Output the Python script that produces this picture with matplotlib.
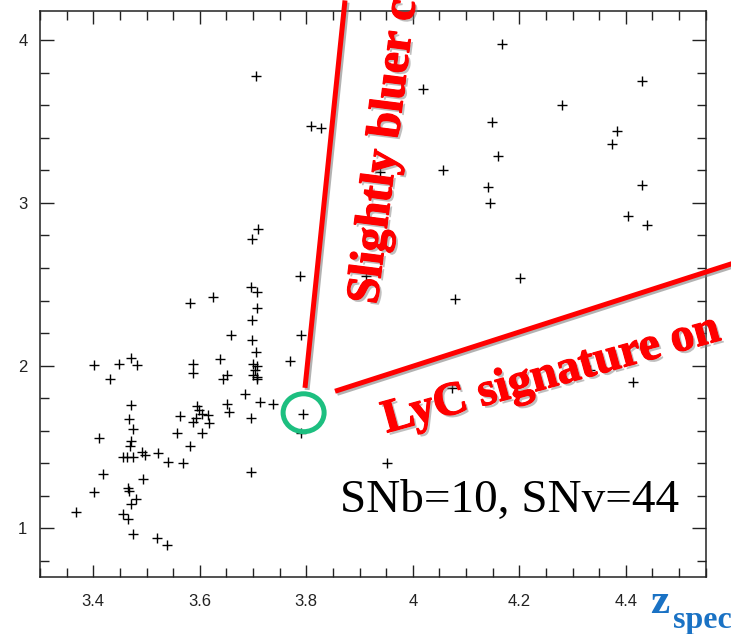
import matplotlib
matplotlib.use("Agg")
import matplotlib.pyplot as plt
import matplotlib.patheffects as pe
from matplotlib.patches import Ellipse
from matplotlib.ticker import MultipleLocator, FixedLocator, FixedFormatter

# redshift and colour of each source
z_spec = [3.705, 3.809, 3.827, 3.710, 3.699, 3.788, 3.912, 3.696, 3.707, 3.625,
          3.582, 4.167, 4.020, 4.430, 4.280, 4.148, 4.383, 4.374, 4.160, 4.057,
          3.938, 4.142, 4.430, 4.145, 4.405, 4.440, 4.201, 4.079, 4.333, 4.414,
          4.073, 3.951,
          3.707, 3.699, 3.659, 3.791, 3.699, 3.705, 3.638, 3.769, 3.588, 3.588,
          3.700, 3.707, 3.703, 3.707, 3.700, 3.707, 3.651, 3.644, 3.685, 3.714,
          3.738, 3.651, 3.654, 3.594, 3.599, 3.604, 3.593, 3.616, 3.618, 3.588,
          3.563, 3.557, 3.604, 3.582, 3.697, 3.794, 3.791, 3.697, 3.568, 3.541,
          3.521,
          3.402, 3.449, 3.470, 3.483, 3.431, 3.471, 3.468, 3.475, 3.411, 3.471,
          3.469, 3.455, 3.463, 3.474, 3.491, 3.497, 3.418, 3.494, 3.402, 3.466,
          3.468, 3.481, 3.471, 3.368, 3.455, 3.466, 3.475, 3.519, 3.539]
colour = [3.78, 3.47, 3.46, 2.84, 2.78, 2.55, 2.55, 2.48, 2.45, 2.42,
          2.385, 3.98, 3.70, 3.75, 3.60, 3.50, 3.44, 3.36, 3.29, 3.20,
          3.19, 3.10, 3.11, 3.00, 2.92, 2.865, 2.54, 2.41, 1.975, 1.90,
          1.863, 1.40,
          2.354, 2.278, 2.19, 2.19, 2.155, 2.084, 2.043, 2.026, 2.012, 1.955,
          2.01, 1.995, 1.975, 1.93, 1.94, 1.915, 1.945, 1.92, 1.826, 1.777,
          1.765, 1.761, 1.714, 1.75, 1.726, 1.70, 1.679, 1.695, 1.644, 1.652,
          1.689, 1.587, 1.587, 1.505, 1.679, 1.70, 1.583, 1.348, 1.40, 1.407,
          1.464,
          2.002, 2.012, 2.047, 2.006, 1.918, 1.757, 1.669, 1.607, 1.552, 1.536,
          1.505, 1.44, 1.44, 1.44, 1.468, 1.452, 1.331, 1.305, 1.225, 1.25,
          1.229, 1.178, 1.147, 1.102, 1.086, 1.055, 0.967, 0.939, 0.896]

xticks = [3.4, 3.6, 3.8, 4.0, 4.2, 4.4]
xtick_labels = ["3.4", "3.6", "3.8", "4", "4.2", "4.4"]
yticks = [1, 2, 3, 4]
ytick_labels = ["1", "2", "3", "4"]

fig = plt.figure(figsize=(7.31, 6.34), dpi=100)
ax = fig.add_axes([0.0547, 0.0899, 0.9654 - 0.0547, 0.98265 - 0.0899])

ax.plot(z_spec, colour, linestyle="none", marker="+", markersize=7.5,
        markeredgewidth=1.0, color="black", zorder=3)

ax.set_xlim(3.3, 4.55)
ax.set_ylim(0.7, 4.18)
ax.xaxis.set_major_locator(FixedLocator(xticks))
ax.xaxis.set_major_formatter(FixedFormatter(xtick_labels))
ax.yaxis.set_major_locator(FixedLocator(yticks))
ax.yaxis.set_major_formatter(FixedFormatter(ytick_labels))
ax.xaxis.set_minor_locator(MultipleLocator(0.05))
ax.yaxis.set_minor_locator(MultipleLocator(0.2))
ax.tick_params(which="both", direction="in", top=True, right=True, width=1,
               color="#222222", labelcolor="#222222")
ax.tick_params(axis="x", which="major", length=9, pad=12)
ax.tick_params(axis="y", which="major", length=10, pad=9)
ax.tick_params(which="minor", length=6.5)
for lbl in ax.get_xticklabels() + ax.get_yticklabels():
    lbl.set_fontfamily("Liberation Sans")
    lbl.set_fontsize(12)
for sp in ax.spines.values():
    sp.set_linewidth(1.1)
    sp.set_color("#222222")

# annotations
line_fx = [pe.SimpleLineShadow(offset=(1.5, -1.5), shadow_color="gray", alpha=0.6),
           pe.Normal()]
ax.plot([3.7976, 3.8727], [1.863, 4.245], color="red", lw=3.6,
        solid_capstyle="butt", clip_on=False, path_effects=line_fx, zorder=5)
ax.plot([3.854, 4.65], [1.842, 2.68], color="red", lw=3.6,
        solid_capstyle="butt", clip_on=False, path_effects=line_fx, zorder=5)

ax.add_patch(Ellipse((3.795, 1.71), 0.077, 0.233, fill=False,
                     edgecolor="#1dbf80", lw=3.6, zorder=6))

text_fx = [pe.withSimplePatchShadow(offset=(1.8, -1.8), shadow_rgbFace="gray",
                                    alpha=0.5),
           pe.Stroke(linewidth=0.9, foreground="red"), pe.Normal()]
fig.text(0.5157, 0.519, "Slightly bluer c", rotation=82.8,
         rotation_mode="anchor", ha="left", va="baseline", color="red",
         fontfamily="Liberation Serif", fontweight="bold", fontsize=34,
         path_effects=text_fx, zorder=7)
fig.text(0.529, 0.3175, "LyC signature on", rotation=15.5,
         rotation_mode="anchor", ha="left", va="baseline", color="red",
         fontfamily="Liberation Serif", fontweight="bold", fontsize=34,
         path_effects=text_fx, zorder=7)

fig.text(0.465, 0.193, "SNb=10, SNv=44", ha="left", va="baseline",
         color="black", fontfamily="Liberation Serif", fontsize=34)

fig.text(0.889, 0.0331, "z", ha="left", va="baseline", color="#1a72c4",
         fontfamily="Liberation Serif", fontweight="bold", fontsize=31)
fig.text(0.9207, 0.0095, "spec", ha="left", va="baseline", color="#1a72c4",
         fontfamily="Liberation Serif", fontweight="bold", fontsize=23)

fig.savefig("out.png", dpi=100)
